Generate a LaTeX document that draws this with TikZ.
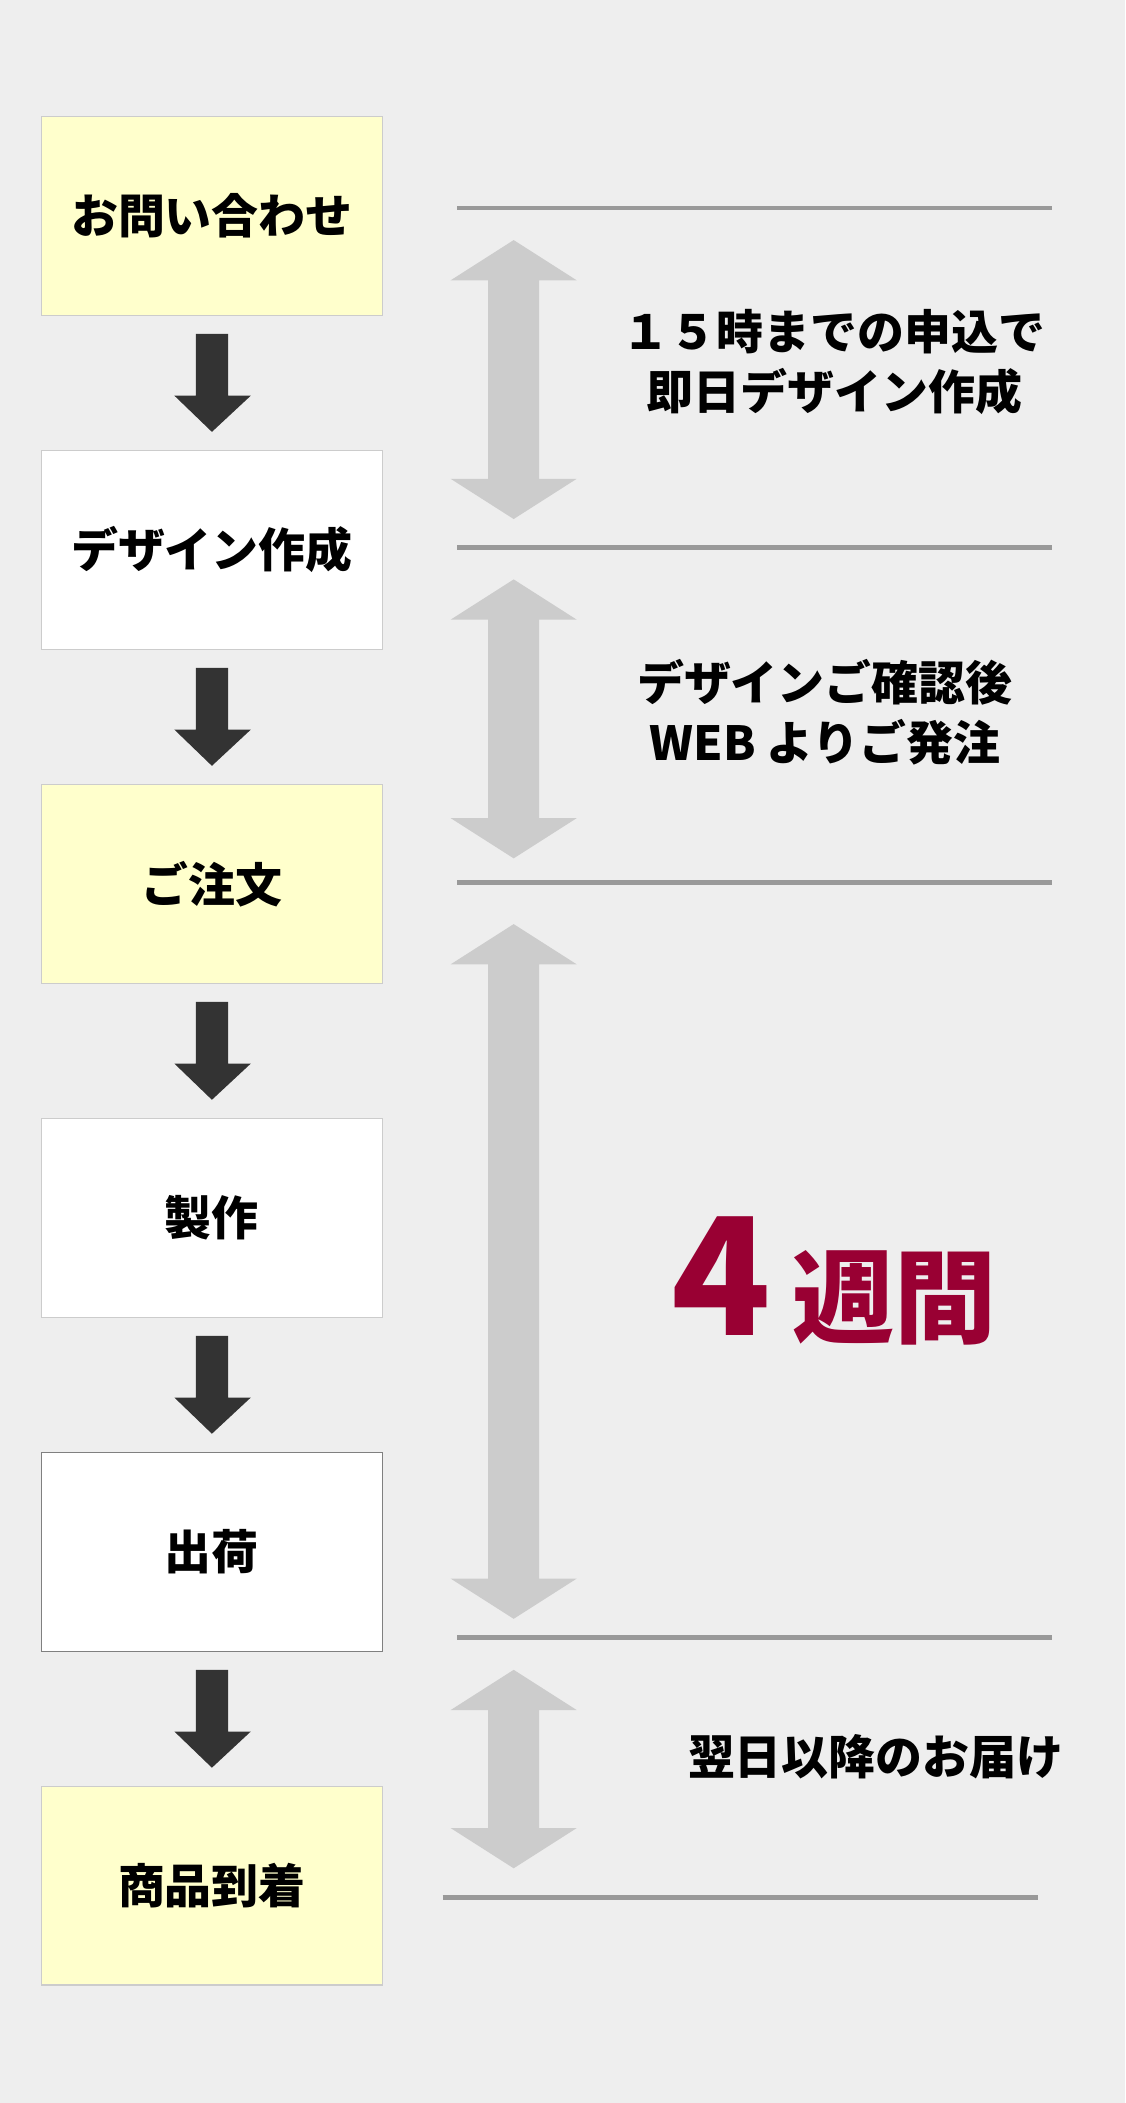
\documentclass[tikz,border=0pt]{standalone}
\usepackage{fontspec}
\setmainfont{Noto Sans CJK JP}
\usetikzlibrary{positioning}
\definecolor{bgc}{HTML}{EEEEEE}
\definecolor{boxy}{HTML}{FFFFCC}
\definecolor{darr}{HTML}{333333}
\definecolor{garr}{HTML}{CCCCCC}
\definecolor{rule}{HTML}{999999}
\definecolor{wine}{HTML}{990033}
\tikzset{every picture/.style={line width=0.75pt}}
\tikzset{
  stepbox/.style={draw=black!20, minimum width=254pt, minimum height=148pt, inner sep=0pt, font=\bfseries\fontsize{35}{40}\selectfont},
  note/.style={align=center, font=\bfseries\fontsize{35}{45}\selectfont, inner sep=0pt},
  sep/.style={draw=rule, line width=3.5pt},
}
% downward arrow between steps: #1 = top y
\newcommand{\dnarrow}[1]{\fill[darr] (146,#1) -- (170,#1) -- (170,#1+46) -- (187,#1+46) -- (158,#1+73) -- (130,#1+46) -- (146,#1+46) -- cycle;}
% two-headed span arrow: #1 top, #2 bottom
\newcommand{\spanarrow}[2]{\fill[garr] (383,#1) -- (430,#1+30) -- (402,#1+30) -- (402,#2-30) -- (430,#2-30) -- (383,#2) -- (336,#2-30) -- (364,#2-30) -- (364,#1+30) -- (336,#1+30) -- cycle;}

\begin{document}
\begin{tikzpicture}[x=1pt,y=1pt,yscale=-1,xscale=1]
\fill[bgc] (0,0) rectangle (839,1568);
\useasboundingbox (0,0) rectangle (839,1568);

%steps
\node[stepbox, fill=boxy] (ask) at (158,161) {お問い合わせ};
\node[stepbox, fill=white] (design) at (158,410) {デザイン作成};
\node[stepbox, fill=boxy] (order) at (158,659) {ご注文};
\node[stepbox, fill=white] (make) at (158,908) {製作};
\node[stepbox, fill=white, draw=black!50] (ship) at (158,1157) {出荷};
\node[stepbox, fill=boxy] (arrive) at (158,1406) {商品到着};

\dnarrow{249}
\dnarrow{498}
\dnarrow{747}
\dnarrow{996}
\dnarrow{1245}

%separators
\draw[sep] (341,155) -- (784,155);
\draw[sep] (341,408) -- (784,408);
\draw[sep] (341,658) -- (784,658);
\draw[sep] (341,1221) -- (784,1221);
\draw[sep] (330,1415) -- (774,1415);

\spanarrow{179}{387}
\spanarrow{432}{640}
\spanarrow{689}{1207}
\spanarrow{1245}{1393}

%notes
\node[note] (sameday) at (622,270) {１５時までの申込で\\即日デザイン作成};
\node[note] (confirm) at (615,531) {デザインご確認後\\WEB よりご発注};
\node[note, text=wine] (weeks) at (622,955) {{\fontsize{122}{122}\selectfont 4}\hspace{16pt}{\fontsize{76}{76}\selectfont 週間}};
\node[note] (deliver) at (653,1310) {翌日以降のお届け};
\end{tikzpicture}
\end{document}
